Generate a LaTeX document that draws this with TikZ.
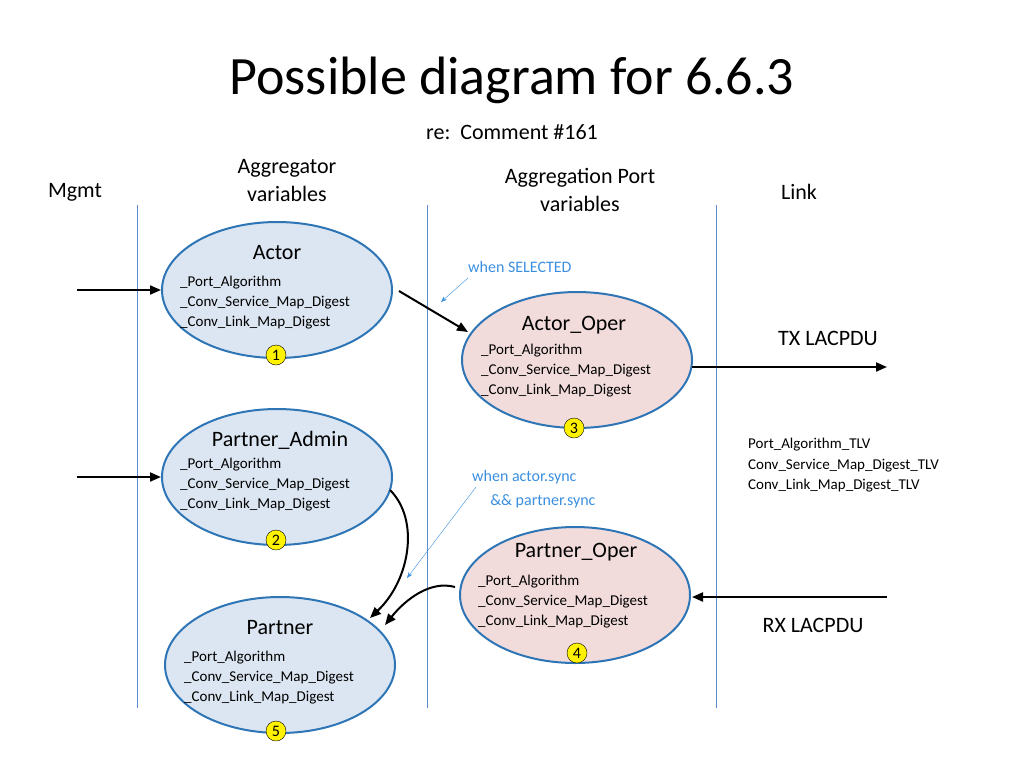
\documentclass[tikz,border=0pt]{standalone}
\usepackage{fontspec}
\setmainfont{Carlito}
\usetikzlibrary{arrows.meta}
\definecolor{bord}{HTML}{2E75B6}
\definecolor{bfill}{HTML}{DCE6F2}
\definecolor{pfill}{HTML}{F2DCDB}
\definecolor{lbl}{HTML}{3A8FE0}
\definecolor{vl}{HTML}{5B8BD0}
\begin{document}
\begin{tikzpicture}[x=1pt,y=-1pt,
  ell/.style={draw=bord,line width=2pt,ellipse,minimum width=230pt,minimum height=136pt},
  num/.style={circle,draw=black,fill=yellow,inner sep=0pt,minimum size=20pt,font=\fontsize{16}{16}\selectfont},
  ttl/.style={font=\fontsize{22}{24}\selectfont},
  sml/.style={font=\fontsize{15}{20}\selectfont,align=left,anchor=north west,inner sep=0pt},
  hdr/.style={font=\fontsize{22}{28}\selectfont,align=center},
  arr/.style={-{Triangle[length=11pt,width=9pt]},line width=2pt},
  vline/.style={draw=vl,line width=0.8pt}]
\useasboundingbox (0,0) rectangle (1024,768);
\usetikzlibrary{shapes.geometric}
\node[font=\fontsize{54}{60}\selectfont] (title) at (512,80) {Possible diagram for 6.6.3};
\node[font=\fontsize{22}{26}\selectfont] (re) at (512,132) {re:\ \ Comment \#161};
\node[hdr] (h1) at (75,192) {Mgmt};
\node[hdr] (h2) at (287,181) {Aggregator\\variables};
\node[hdr] (h3) at (580,190) {Aggregation Port\\variables};
\node[hdr] (h4) at (799,192) {Link};
\draw[vline] (137,205) coordinate (v1a) -- (137,708) coordinate (v1b);
\draw[vline] (427,205) coordinate (v2a) -- (427,708) coordinate (v2b);
\draw[vline] (716,205) coordinate (v3a) -- (716,708) coordinate (v3b);

\node[ell,fill=bfill] (actor) at (277,290) {};
\node[ell,fill=bfill] (padmin) at (277,477) {};
\node[ell,fill=bfill] (partner) at (280,665) {};
\node[ell,fill=pfill] (aoper) at (577,360) {};
\node[ell,fill=pfill] (poper) at (575,595) {};

\node[ttl] (t1) at (277,253) {Actor};
\node[sml] (s1) at (180,276) {\_Port\_Algorithm\\\_Conv\_Service\_Map\_Digest\\\_Conv\_Link\_Map\_Digest};
\node[num] (n1) at (276,355) {1};
\node[ttl] (t2) at (280,440) {Partner\_Admin};
\node[sml] (s2) at (180,458) {\_Port\_Algorithm\\\_Conv\_Service\_Map\_Digest\\\_Conv\_Link\_Map\_Digest};
\node[num] (n2) at (276,540) {2};
\node[ttl] (t5) at (280,628) {Partner};
\node[sml] (s5) at (184,651) {\_Port\_Algorithm\\\_Conv\_Service\_Map\_Digest\\\_Conv\_Link\_Map\_Digest};
\node[num] (n5) at (276,731) {5};
\node[ttl] (t3) at (574,325) {Actor\_Oper};
\node[sml] (s3) at (481,344) {\_Port\_Algorithm\\\_Conv\_Service\_Map\_Digest\\\_Conv\_Link\_Map\_Digest};
\node[num] (n3) at (574,428) {3};
\node[ttl] (t4) at (576,552) {Partner\_Oper};
\node[sml] (s4) at (478,575) {\_Port\_Algorithm\\\_Conv\_Service\_Map\_Digest\\\_Conv\_Link\_Map\_Digest};
\node[num] (n4) at (577,653) {4};

\coordinate (m1) at (77,290);
\coordinate (m2) at (77,477);
\draw[arr] (m1) -- (actor.west);
\draw[arr] (m2) -- (padmin.west);
\draw[arr] (399,291) -- (468,332);
\coordinate (tx) at (887,367);
\coordinate (rx) at (887,597);
\draw[arr] (692,367) -- (tx);
\draw[arr] (rx) -- (692,597);
\draw[arr] (390,490) .. controls (420,520) and (410,580) .. (370,618);
\draw[arr] (455,587) .. controls (430,580) and (405,600) .. (385,625);

\node[font=\fontsize{16}{18}\selectfont,text=lbl,anchor=west,inner sep=0pt] (w1) at (468,267) {when SELECTED};
\draw[draw=lbl,-{Stealth[length=6pt]}] (468,278) -- (441,302);
\node[font=\fontsize{16}{24}\selectfont,text=lbl,align=left,anchor=west,inner sep=0pt] (w2) at (472,489) {when actor.sync\\\ \ \ \ \ \&\& partner.sync};
\draw[draw=lbl,-{Stealth[length=6pt]}] (476,487) -- (407,578);

\node[font=\fontsize{22}{24}\selectfont] (txl) at (828,338) {TX LACPDU};
\node[font=\fontsize{22}{24}\selectfont] (rxl) at (813,625) {RX LACPDU};
\node[font=\fontsize{15}{20.5}\selectfont,align=left,anchor=north west,inner sep=0pt] (tlv) at (748,438) {Port\_Algorithm\_TLV\\Conv\_Service\_Map\_Digest\_TLV\\Conv\_Link\_Map\_Digest\_TLV};
\end{tikzpicture}
\end{document}
